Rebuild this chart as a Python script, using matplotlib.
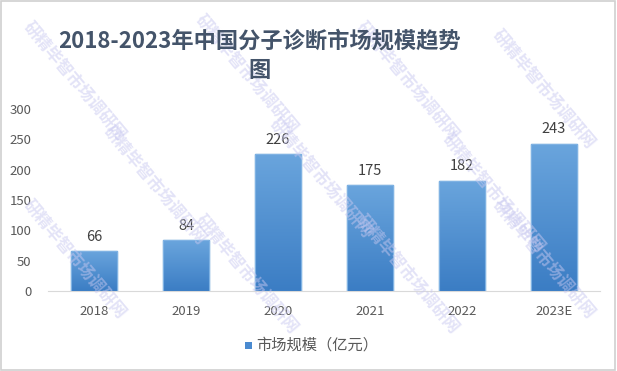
import numpy as np
import matplotlib.pyplot as plt
from matplotlib.patches import Rectangle
from matplotlib.colors import LinearSegmentedColormap

plt.rcParams['font.family'] = ['Noto Sans CJK SC', 'DejaVu Sans']

years = ['2018', '2019', '2020', '2021', '2022', '2023E']
market = [66, 84, 226, 175, 182, 243]
title = '2018-2023年中国分子诊断市场规模趋势\n图'
legend_label = '市场规模（亿元）'
watermark = '研精毕智市场调研网'

fig = plt.figure(figsize=(6.17, 3.71), dpi=100)
ax = fig.add_axes([0.078, 0.2156, 0.894, 0.4906])

x = np.arange(len(years))
bars = ax.bar(x, market, width=0.5, color='#5b9bd5', edgecolor='#5b9bd5', zorder=2)

# gradient fill, lighter at top
grad = np.linspace(0, 1, 256).reshape(-1, 1)
cmap = LinearSegmentedColormap.from_list('g', ['#3b7dc4', '#6aa5dd'])
for b in bars:
    bx, by = b.get_x(), b.get_y()
    w, h = b.get_width(), b.get_height()
    im = ax.imshow(grad, cmap=cmap, aspect='auto', origin='lower',
                   extent=[bx, bx + w, by, by + h], zorder=3)
    im.set_clip_path(b)
    ax.add_patch(Rectangle((bx, by), w, h, fill=False, edgecolor='#7fb2e3', lw=0.8, zorder=4))

for xi, v in zip(x, market):
    ax.text(xi, v + 12, str(v), ha='center', va='bottom', fontsize=10.5, color='#404040', zorder=5)

ax.set_xlim(-0.5, len(years) - 0.5)
ax.set_ylim(0, 300)
ax.set_yticks(range(0, 301, 50))
ax.set_xticks(x)
ax.set_xticklabels(years)
ax.tick_params(length=0, labelsize=9.5, labelcolor='#595959')
ax.tick_params(axis='x', pad=10)
ax.tick_params(axis='y', pad=12)
for s in ['top', 'right', 'left']:
    ax.spines[s].set_visible(False)
ax.spines['bottom'].set_color('#d9d9d9')
ax.set_facecolor('none')

fig.text(0.42, 0.85, title, ha='center', va='center', fontsize=16,
         fontweight='bold', color='#44546a', linespacing=1.35)

# legend
fig.patches.append(Rectangle((0.397, 0.06), 0.011, 0.018, transform=fig.transFigure,
                             facecolor='#4a8ad0', edgecolor='none'))
fig.text(0.415, 0.069, legend_label, ha='left', va='center', fontsize=11, color='#595959')

# watermark
for wx, wy in [(0.12, 0.78), (0.40, 0.80), (0.66, 0.78), (0.88, 0.76),
               (0.25, 0.50), (0.52, 0.52), (0.80, 0.48),
               (0.12, 0.30), (0.40, 0.26), (0.66, 0.26), (0.88, 0.30)]:
    fig.text(wx, wy, watermark, rotation=-50, fontsize=12, fontweight='bold',
             color='#c8c8f0', alpha=0.5, ha='center', va='center', zorder=0)

fig.patches.append(Rectangle((0.002, 0.003), 0.995, 0.994, transform=fig.transFigure,
                             fill=False, edgecolor='#d0d0d0', lw=1.2))

fig.savefig('out.png', dpi=100)
